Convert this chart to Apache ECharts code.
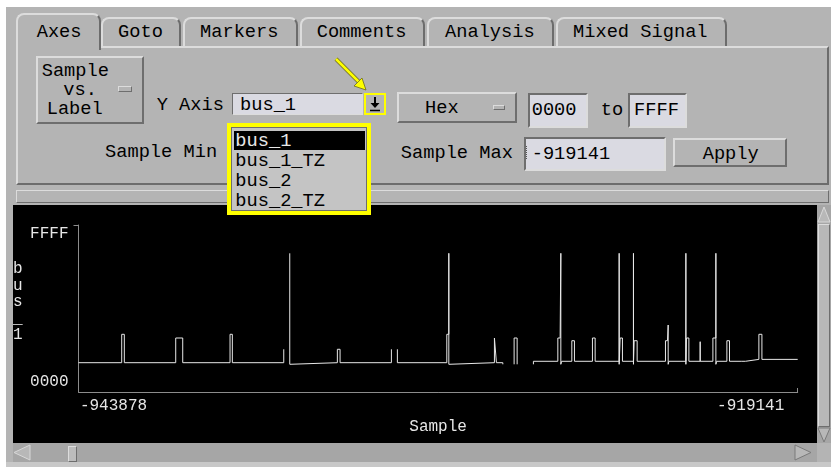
<!DOCTYPE html>
<html>
<head>
<meta charset="utf-8">
<script src="https://cdn.jsdelivr.net/npm/echarts@6/dist/echarts.min.js"></script>
<style>
body { margin:0; width:831px; height:467px; overflow:hidden; position:relative; background:#fff; }
.abs { position:absolute; box-sizing:border-box; }
.t { position:absolute; font:18.7px "Liberation Mono", monospace; line-height:21px; white-space:pre; color:#000; }
.tab { position:absolute; box-sizing:border-box; background:#b4b4b4; border-top:2px solid #dcdcdc; border-left:2px solid #dcdcdc; border-right:2px solid #6c6c6c; border-radius:8px 8px 0 0; }
.raised { border-top:2px solid #dcdcdc; border-left:2px solid #dcdcdc; border-right:2px solid #6e6e6e; border-bottom:2px solid #6e6e6e; background:#b4b4b4; }
.sunk { border-top:2px solid #6e6e6e; border-left:2px solid #6e6e6e; border-right:2px solid #dcdcdc; border-bottom:2px solid #dcdcdc; background:#dadae2; }
</style>
</head>
<body>
<div class="abs" style="left:6px;top:7px;width:825px;height:460px;background:#b4b4b4"></div>

<!-- tabs -->
<div class="tab" style="left:101px;top:17px;width:80px;height:30px"></div>
<div class="tab" style="left:183px;top:17px;width:115px;height:30px"></div>
<div class="tab" style="left:300px;top:17px;width:125px;height:30px"></div>
<div class="tab" style="left:427px;top:17px;width:127px;height:30px"></div>
<div class="tab" style="left:556px;top:17px;width:171px;height:30px"></div>
<div class="abs" style="left:16px;top:46px;width:813px;height:139px;border-top:2px solid #dcdcdc;border-left:2px solid #dcdcdc;border-right:2px solid #6c6c6c;border-bottom:2px solid #6c6c6c;background:#b4b4b4"></div>
<div class="tab" style="left:16px;top:13px;width:85px;height:37px;border-right:2px solid #6c6c6c"></div>
<div class="abs" style="left:18px;top:44px;width:81px;height:6px;background:#b4b4b4"></div>

<div class="t" style="left:36.7px;top:21.8px">Axes</div>
<div class="t" style="left:118px;top:21.8px">Goto</div>
<div class="t" style="left:200px;top:21.8px">Markers</div>
<div class="t" style="left:316.7px;top:21.8px">Comments</div>
<div class="t" style="left:445px;top:21.8px">Analysis</div>
<div class="t" style="left:573px;top:21.8px">Mixed Signal</div>

<!-- controls -->
<div class="abs raised" style="left:36px;top:56px;width:108px;height:68px"></div>
<div class="abs raised" style="left:118px;top:86px;width:14px;height:6px;border-width:1px"></div>
<div class="t" style="left:41.7px;top:61px">Sample</div>
<div class="t" style="left:63.3px;top:79.5px">vs.</div>
<div class="t" style="left:46.7px;top:98.5px">Label</div>

<div class="t" style="left:156.7px;top:94.5px">Y Axis</div>
<div class="abs sunk" style="left:232px;top:93px;width:131px;height:22px;border-width:1px"></div>
<div class="t" style="left:240px;top:94.5px">bus_1</div>
<div class="abs" style="left:364px;top:92.7px;width:22px;height:22px;border:2px solid #ffff00;background:#b4b4b4"></div>

<div class="abs raised" style="left:397px;top:92px;width:120px;height:31px"></div>
<div class="abs raised" style="left:493px;top:105px;width:12px;height:5px;border-width:1px"></div>
<div class="t" style="left:425px;top:97.8px">Hex</div>

<div class="abs sunk" style="left:528px;top:93px;width:60px;height:35px"></div>
<div class="t" style="left:531.7px;top:99.5px">0000</div>
<div class="t" style="left:600.7px;top:99.5px">to</div>
<div class="abs sunk" style="left:628px;top:93px;width:59px;height:35px"></div>
<div class="t" style="left:634px;top:99.5px">FFFF</div>

<div class="t" style="left:105px;top:141.8px">Sample Min</div>
<div class="t" style="left:400.8px;top:142.5px">Sample Max</div>
<div class="abs sunk" style="left:524px;top:137px;width:142px;height:34px"></div>
<div class="t" style="left:531.7px;top:143.5px">-919141</div>
<div class="abs" style="left:526px;top:146px;width:2px;height:13px;border-left:1px dotted #555"></div>
<div class="abs raised" style="left:673px;top:138px;width:114px;height:29px"></div>
<div class="t" style="left:702.7px;top:143.5px">Apply</div>

<!-- sash -->
<div class="abs raised" style="left:16px;top:190px;width:813px;height:13px;border-width:1px"></div>

<!-- scrollbars -->
<div class="abs" style="left:817px;top:205px;width:14px;height:238px;background:#a6a6a6"></div>
<div class="abs raised" style="left:818px;top:224px;width:12px;height:203px;border-width:1px;background:#b8b8b8"></div>
<div class="abs" style="left:13px;top:443px;width:804px;height:19px;background:#a6a6a6"></div>
<div class="abs raised" style="left:68px;top:446px;width:9px;height:16px;border-width:1px;background:#bcbcbc"></div>
<div class="abs" style="left:6px;top:462px;width:825px;height:5px;background:#c8c8c8"></div>

<div id="chart" class="abs" style="left:13px;top:205px;width:804px;height:238px;background:#000"></div>

<!-- dropdown list -->
<div class="abs" style="left:227px;top:123px;width:144px;height:92px;border:4px solid #ffff00;background:#c4c4c4"></div>
<div class="abs" style="left:231px;top:127px;width:136px;height:84px;border:1px solid #6e6e6e"></div>
<div class="abs" style="left:234px;top:131px;width:131px;height:19px;background:#000"></div>
<div class="t" style="left:235.3px;top:131.2px;color:#e8e8e8">bus_1</div>
<div class="t" style="left:235.3px;top:151.2px">bus_1_TZ</div>
<div class="t" style="left:235.3px;top:171.2px">bus_2</div>
<div class="t" style="left:235.3px;top:191.2px">bus_2_TZ</div>

<svg class="abs" style="left:0;top:0" width="831" height="467">
  <!-- arrow glyph in the drop button -->
  <line x1="375" y1="97" x2="375" y2="106" stroke="#000" stroke-width="2"/>
  <polygon points="370.5,103 379.5,103 375,108" fill="#000"/>
  <line x1="370" y1="110.5" x2="380" y2="110.5" stroke="#000" stroke-width="1.5"/>
  <!-- yellow pointer -->
  <line x1="336" y1="59" x2="361" y2="84" stroke="#6a6a20" stroke-width="4"/>
  <line x1="336" y1="59" x2="361" y2="84" stroke="#ffff00" stroke-width="2.5"/>
  <polygon points="366,90 354,86 362,78" fill="#ffff00" stroke="#6a6a20" stroke-width="0.8"/>
  <!-- scroll arrows -->
  <polygon points="824,207 818,222 830,222" fill="#b8b8b8" stroke="#d8d8d8" stroke-width="1"/>
  <polygon points="824,442 818,428 830,428" fill="#b8b8b8" stroke="#7a7a7a" stroke-width="1"/>
  <polygon points="14,452.5 30,445 30,460" fill="#b8b8b8" stroke="#d8d8d8" stroke-width="1"/>
  <polygon points="811,452.5 795,445 795,460" fill="#b8b8b8" stroke="#7a7a7a" stroke-width="1"/>
</svg>

<script>
// bus_1 trace, sample numbers vs value; null = no line drawn (gap)
var sampleX = [
  -943878, -942392, -942392, -942302, -942302, -940534, -940534, -940293, -940293,
  -938666, -938666, -938587, -938587, -936818, -936818, null,
  -936612, -936612, -936584, -934974, -934974, -934881, -934881, -933116, -933116, null,
  -932910, -932910, -931210, -931210, -931141, -931141, -931141, -931114,
  -929572, -929572, -929504, -929504, -929283, -929283, null,
  -928895, -928895, -928791, -928791, null,
  -928231, -928231, -927391, -927391, -927312, -927288, -927288, -927260,
  -926910, -926910, -926820, -926820, -926201, -926201, -926108, -926108,
  -925282, -925282, -925282, -925248, -925169, -925169,
  -924790, -924790, -924790, -924766, -924663, -924663,
  -923689, -923689, -923620, -923596, -923596, -923572,
  -922987, -922987, -922987, -922967, -922884, -922884,
  -922495, -922495, -922495,
  -922058, -922058, -921955, -921955, -921955, -921928,
  -921577, -921577, -921487, -921487,
  -921085, -921085, -921050, -920937, -920937,
  -920476, -920476, -920372, -920372, -919141
];
var busValue = [
  11500, 11500, 22640, 22640, 11500, 11500, 21190, 21190, 11500,
  11500, 22640, 22640, 11500, 11500, 16760, null,
  54430, 10870, 11500, 11500, 16760, 16760, 11500, 11500, 16760, null,
  16760, 11500, 11500, 22640, 22640, 54430, 10870, 11500,
  11500, 21190, 21190, 11500, 11500, 10870, null,
  10870, 21190, 21190, 10870, null,
  10870, 12050, 12050, 21190, 21190, 54430, 10870, 12050,
  12050, 20130, 20130, 12050, 12050, 21190, 21190, 12050,
  12050, 54430, 10870, 21190, 21190, 12050,
  12050, 54430, 10870, 20130, 20130, 12050,
  12050, 20130, 20130, 26290, 10870, 12050,
  12050, 54430, 10870, 21190, 21190, 12050,
  12050, 19740, 12050,
  12050, 21190, 21190, 54430, 10870, 12050,
  12050, 20130, 20130, 12050,
  12050, 12800, 12050, 12050, 12800,
  12800, 22640, 22640, 12800, 12800
];
var sampleMin = -943878;
var sampleMax = -919141;
var yTickLabels = ['0000', 'FFFF'];

var traceData = sampleX.map(function (x, i) {
  return busValue[i] === null ? [x, '-'] : [x, busValue[i]];
});

var mono = '"Liberation Mono", monospace';
var chart = echarts.init(document.getElementById('chart'));
var option = {
  backgroundColor: '#000',
  animation: false,
  grid: { left: 65.5, right: 19.3, top: 20, bottom: 51 },
  xAxis: {
    type: 'value',
    min: sampleMin,
    max: sampleMax,
    name: 'Sample',
    nameLocation: 'middle',
    nameGap: 24,
    nameTextStyle: { color: '#e6e6e6', fontFamily: mono, fontSize: 16 },
    axisLine: { lineStyle: { color: '#8c8c8c', width: 1 } },
    axisTick: { show: true, inside: true, length: 4, customValues: [sampleMax], lineStyle: { color: '#8c8c8c' } },
    splitLine: { show: false },
    axisLabel: {
      customValues: [sampleMin, sampleMax],
      margin: 6,
      color: '#e6e6e6',
      fontFamily: mono,
      fontSize: 16,
      formatter: function (v) { return v === sampleMin ? '{l|' + v + '}' : '{r|' + v + '}'; },
      rich: {
        l: { fontFamily: mono, fontSize: 16, color: '#e6e6e6', padding: [0, 0, 0, 70] },
        r: { fontFamily: mono, fontSize: 16, color: '#e6e6e6', padding: [0, 94, 0, 0] }
      }
    }
  },
  yAxis: {
    type: 'value',
    min: 0,
    max: 65535,
    axisLine: { show: true, lineStyle: { color: '#8c8c8c', width: 1 } },
    axisTick: { show: true, length: 5, customValues: [65535], lineStyle: { color: '#8c8c8c' } },
    splitLine: { show: false },
    axisLabel: {
      customValues: [0, 65535],
      margin: 10,
      color: '#e6e6e6',
      fontFamily: mono,
      fontSize: 16,
      formatter: function (v) { return v === 65535 ? '{t|' + yTickLabels[1] + '}' : '{b|' + yTickLabels[0] + '}'; },
      rich: {
        t: { fontFamily: mono, fontSize: 16, color: '#e6e6e6', padding: [18, 0, 0, 0] },
        b: { fontFamily: mono, fontSize: 16, color: '#e6e6e6', padding: [0, 0, 20, 0] }
      }
    }
  },
  graphic: [
    {
      type: 'text',
      left: 0,
      top: 56,
      style: { text: 'b\nu\ns\n_\n1', fill: '#e6e6e6', font: '16px ' + mono, lineHeight: 16.5 }
    }
  ],
  series: [
    {
      type: 'line',
      data: traceData,
      showSymbol: false,
      connectNulls: false,
      lineStyle: { color: '#e8e8e8', width: 1 }
    }
  ]
};
chart.setOption(option);
</script>
</body>
</html>
